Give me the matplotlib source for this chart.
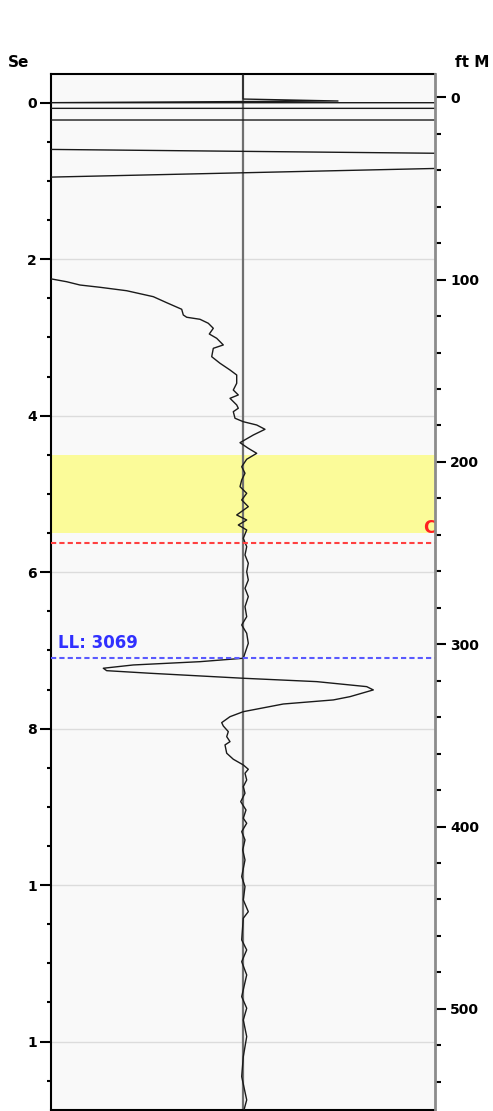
import matplotlib.pyplot as plt
import numpy as np

nan = float("nan")

# log trace: amplitude (centre = 0) against two-way time in seconds
# (nan = trace wraps off the track)
amp = [0, 0, 95, -200, 200, 200, -200, -200, 200, 200, -200, -200, 200, nan, -200,
       -191.3, -176.3, -163, -143, -116.3, -89.7, -76.3, -61.3, -59.7, -56.3,
       -43, -34.7, -29.7, -33.7, -26.3, -19.7, -29.7, -31.3, -23, -13,
       -6.3, -6.3, -9.7, -4.7, -13, -6.3, -4.7, -9.7, -8, 0.3,
       13.7, 22, 10.3, -3, 5.3, 13.7, 3.7, -1.3, 2, -1.3,
       -3, 3.7, -1.3, 5.3, -6.3, 3.7, -4.7, 3.7, 0.3, 3.7,
       2, 5.3, 3.7, 5.3, 2, 5.3, 2, 3.7, -1.3, 3.7,
       5.3, 2, 0.3, -43, -109.7, -139.7, -136.3, -93, 0.3, 73.7,
       123.7, 130.3, 107, 90.3, 40.3, 0.3, -13, -21.3, -19.7, -14.7,
       -16.3, -13, -18, -16.3, -9.7, 0.3, 5.3, 2, 3.7, 0.3,
       2, -2.3, 3, 0.3, 3.7, -1.3, 2, -0.3, 2, -1.3,
       2, 0.3, 5.3, 0.3, -1.3, 3.7, -1.3, 3.7, -1.3, 3.7,
       0.3, 3.7, 0.3, -1.3, 3.7, 1]
twt = [-0.37, -0.047, -0.022, 0.0, 0.0, 0.072, 0.072, 0.221, 0.221, 0.647, 0.596, 0.953, 0.838, nan, 2.24,
       2.253, 2.288, 2.330, 2.359, 2.403, 2.479, 2.556, 2.640, 2.713, 2.742,
       2.768, 2.819, 2.883, 2.956, 3.011, 3.096, 3.139, 3.246, 3.330, 3.416,
       3.480, 3.586, 3.672, 3.735, 3.778, 3.863, 3.905, 3.949, 4.033, 4.077,
       4.119, 4.174, 4.247, 4.345, 4.417, 4.481, 4.557, 4.652, 4.736, 4.822,
       4.907, 4.992, 5.077, 5.163, 5.269, 5.333, 5.397, 5.461, 5.567, 5.674,
       5.780, 5.886, 5.994, 6.100, 6.206, 6.313, 6.441, 6.569, 6.675, 6.781,
       6.909, 7.036, 7.100, 7.144, 7.186, 7.228, 7.259, 7.292, 7.356, 7.399,
       7.463, 7.505, 7.591, 7.633, 7.685, 7.783, 7.847, 7.923, 7.966, 8.038,
       8.102, 8.166, 8.208, 8.314, 8.391, 8.464, 8.519, 8.570, 8.656, 8.741,
       8.826, 8.933, 9.039, 9.145, 9.209, 9.316, 9.422, 9.550, 9.678, 9.891,
       10.019, 10.189, 10.339, 10.423, 10.700, 10.828, 10.978, 11.148, 11.425, 11.573,
       11.723, 11.936, 12.192, 12.447, 12.745, 12.873]

zone_top, zone_base = 4.5, 5.5          # yellow interval
red_pick = 5.623                        # "C" marker
blue_pick = 7.10                        # LL marker
blue_label = "LL: 3069"
red_label = "C"

left_ticks = [0, 2, 4, 6, 8, 10, 12]
left_labels = ["0", "2", "4", "6", "8", "1", "1"]
right_ticks = [0, 100, 200, 300, 400, 500]
right_labels = ["0", "100", "200", "300", "400", "500"]

fig = plt.figure(figsize=(4.93, 11.11), dpi=100)
ax = fig.add_axes([51 / 493, 1 / 1111, 384 / 493, 1036 / 1111])
ax.set_facecolor("#f9f9f9")
ax.set_xlim(-192, 192)
ax.set_ylim(12.874, -0.367)

for t in left_ticks[1:]:
    ax.axhline(t, color="#dcdcdc", lw=1, zorder=1)
ax.axhspan(zone_top, zone_base, color="#fbfb99", zorder=1.5, lw=0)
ax.axvline(0, color="#707070", lw=1.6, zorder=2)
ax.plot(amp, twt, color="#1a1a1a", lw=1.0, zorder=3)
ax.axhline(red_pick, color="#ff4040", lw=1.5, ls=(0, (2.5, 1.5)), zorder=4)
ax.axhline(blue_pick, color="#5a5aff", lw=1.5, ls=(0, (2.5, 1.5)), zorder=4)
ax.text(-185, blue_pick - 0.08, blue_label, color="#3030ff", fontsize=12,
        fontweight="bold", va="bottom", ha="left", zorder=5)
ax.text(192, red_pick - 0.07, red_label, color="#ff2020", fontsize=12,
        fontweight="bold", va="bottom", ha="right", zorder=5)

ax.set_xticks([])
ax.set_yticks(left_ticks)
ax.set_yticklabels(left_labels, fontsize=10, fontweight="bold")
ax.set_yticks(np.arange(0, 13, 0.5), minor=True)
ax.tick_params(axis="y", which="major", length=8, width=1.5, pad=2)
ax.tick_params(axis="y", which="minor", length=3, width=1.5)
for s in ["left", "top", "bottom"]:
    ax.spines[s].set_color("black")
    ax.spines[s].set_linewidth(1.5)
ax.spines["right"].set_visible(False)

ax2 = ax.twinx()
ax2.set_ylim(555.5, -12.8)
ax2.set_yticks(right_ticks)
ax2.set_yticklabels(right_labels, fontsize=10, fontweight="bold")
ax2.set_yticks(np.arange(0, 556, 20), minor=True)
ax2.tick_params(axis="y", which="major", length=8, width=1.5, pad=3)
ax2.tick_params(axis="y", which="minor", length=4, width=1.5)
for s in ["left", "top", "bottom"]:
    ax2.spines[s].set_visible(False)
ax2.spines["right"].set_color("#8c8c8c")
ax2.spines["right"].set_linewidth(2)

fig.text(8 / 493, 1 - 67 / 1111, "Se", fontsize=11, fontweight="bold", ha="left", va="baseline")
fig.text(489 / 493, 1 - 67 / 1111, "ft M", fontsize=11, fontweight="bold", ha="right", va="baseline")

fig.savefig("out.png", dpi=100)
